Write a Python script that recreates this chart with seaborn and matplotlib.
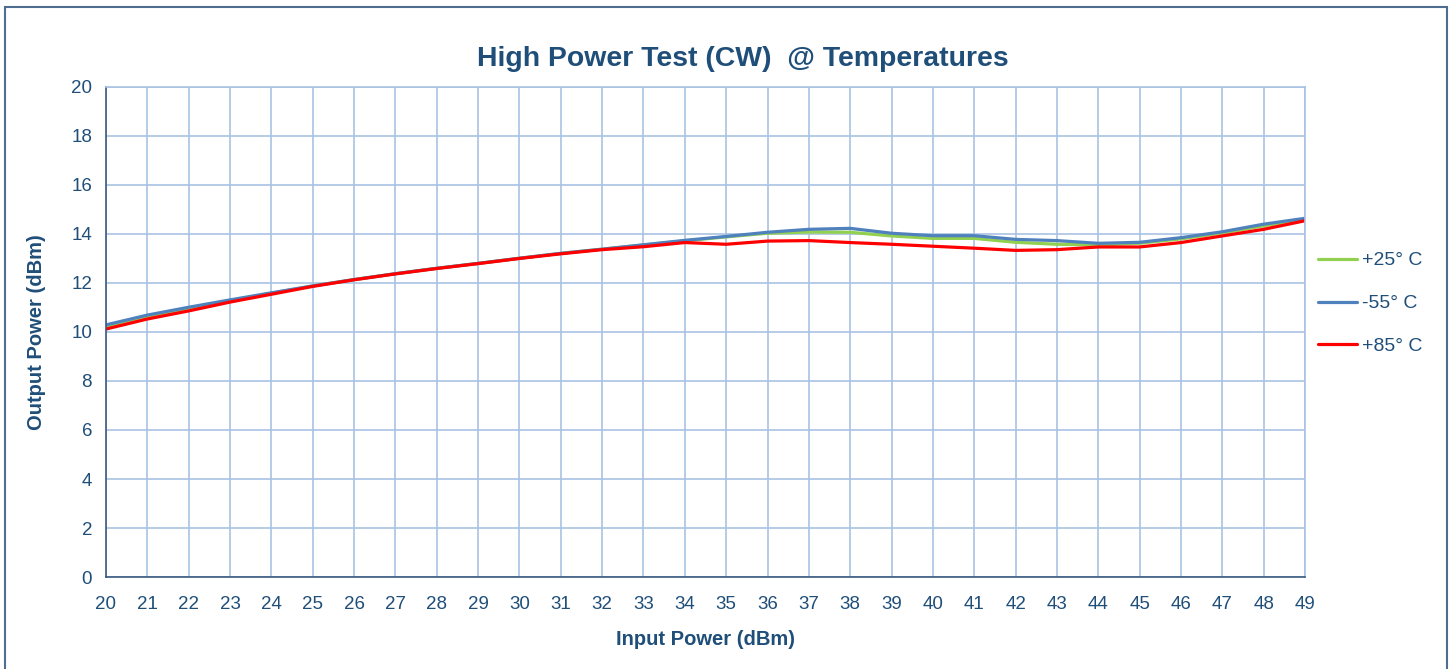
import pandas as pd
import numpy as np
import matplotlib
matplotlib.use("Agg")
import matplotlib.pyplot as plt
import seaborn as sns
from matplotlib.patches import Rectangle

input_power = list(range(20, 50))
p25 = [10.20, 10.62, 10.95, 11.28, 11.58, 11.88, 12.14, 12.38, 12.60, 12.80,
       13.01, 13.21, 13.38, 13.55, 13.72, 13.88, 14.03, 14.08, 14.07, 13.92,
       13.82, 13.82, 13.66, 13.58, 13.55, 13.62, 13.80, 14.04, 14.33, 14.60]
m55 = [10.29, 10.69, 11.01, 11.31, 11.60, 11.88, 12.14, 12.38, 12.60, 12.80,
       13.01, 13.21, 13.38, 13.56, 13.74, 13.90, 14.07, 14.19, 14.23, 14.03,
       13.93, 13.93, 13.78, 13.73, 13.62, 13.66, 13.85, 14.09, 14.40, 14.64]
p85 = [10.12, 10.53, 10.86, 11.22, 11.54, 11.86, 12.13, 12.37, 12.59, 12.79,
       13.00, 13.19, 13.36, 13.48, 13.65, 13.58, 13.71, 13.73, 13.65, 13.58,
       13.50, 13.42, 13.33, 13.36, 13.47, 13.47, 13.65, 13.92, 14.19, 14.54]
labels = ["+25° C", "-55° C", "+85° C"]
colors = ["#92D050", "#4F81BD", "#FF0000"]

df = pd.DataFrame({"Input": input_power * 3,
                   "Output": p25 + m55 + p85,
                   "Temp": [labels[0]] * 30 + [labels[1]] * 30 + [labels[2]] * 30})

sns.set_style("white")
plt.rcParams["font.family"] = ["Liberation Sans", "DejaVu Sans"]
txt = "#1F4E79"
grid = "#A9C2E2"

fig = plt.figure(figsize=(14.5, 6.69), dpi=100)
ax = fig.add_axes([0.0731, 0.1375, 0.8269, 0.7325])

sns.lineplot(data=df, x="Input", y="Output", hue="Temp",
             palette=dict(zip(labels, colors)), linewidth=2.3, ax=ax)

ax.set_xlim(20, 49)
ax.set_ylim(0, 20)
ax.set_xticks(range(20, 50))
ax.set_yticks(range(0, 21, 2))
ax.grid(True, color=grid, linewidth=1.2)
ax.set_axisbelow(True)
for s in ["top", "right"]:
    ax.spines[s].set_color(grid)
    ax.spines[s].set_linewidth(1.2)
for s in ["left", "bottom"]:
    ax.spines[s].set_color("#3A5A80")
    ax.spines[s].set_linewidth(1.2)
ax.tick_params(colors=txt, labelsize=13.5, length=0)
ax.tick_params(axis="x", pad=14)
ax.tick_params(axis="y", pad=10)
ax.set_xlabel("Input Power (dBm)", fontsize=14.5, fontweight="bold", color=txt, labelpad=12)
ax.set_ylabel("Output Power (dBm)", fontsize=14.5, fontweight="bold", color=txt, labelpad=18)
fig.text(0.5124, 1 - 59 / 669, "High Power Test (CW)  @ Temperatures", fontsize=20.4,
         fontweight="bold", color=txt, ha="center", va="center")

leg = ax.legend(loc="center left", bbox_to_anchor=(0.996, 0.558), frameon=False,
                fontsize=14, handlelength=2.0, handletextpad=0.3, labelspacing=1.3)
for t in leg.get_texts():
    t.set_color(txt)

fig.patches.append(Rectangle((0.0035, -0.05), 0.9945, 1.04, transform=fig.transFigure,
                             fill=False, edgecolor="#4F6D8F", linewidth=1.5))

fig.savefig("out.png", dpi=100)
